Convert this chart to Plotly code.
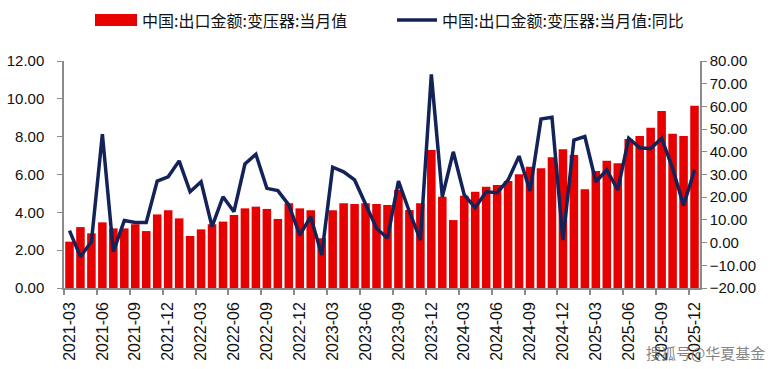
import plotly.graph_objects as go

months = ["2021-03", "2021-04", "2021-05", "2021-06", "2021-07", "2021-08", "2021-09", "2021-10",
          "2021-11", "2021-12", "2022-01", "2022-02", "2022-03", "2022-04", "2022-05", "2022-06",
          "2022-07", "2022-08", "2022-09", "2022-10", "2022-11", "2022-12", "2023-01", "2023-02",
          "2023-03", "2023-04", "2023-05", "2023-06", "2023-07", "2023-08", "2023-09", "2023-10",
          "2023-11", "2023-12", "2024-01", "2024-02", "2024-03", "2024-04", "2024-05", "2024-06",
          "2024-07", "2024-08", "2024-09", "2024-10", "2024-11", "2024-12", "2025-01", "2025-02",
          "2025-03", "2025-04", "2025-05", "2025-06", "2025-07", "2025-08", "2025-09", "2025-10",
          "2025-11", "2025-12"]

export_value = [2.45, 3.22, 2.89, 3.47, 3.15, 3.15, 3.37, 3.01, 3.89, 4.11, 3.68, 2.75,
                3.10, 3.37, 3.51, 3.86, 4.21, 4.30, 4.18, 3.65, 4.48, 4.21, 4.11, 2.63,
                4.11, 4.48, 4.44, 4.48, 4.44, 4.39, 5.18, 4.12, 4.48, 7.29, 4.83, 3.59,
                4.88, 5.09, 5.35, 5.44, 5.66, 6.01, 6.41, 6.33, 6.91, 7.33, 7.03, 5.22,
                6.18, 6.73, 6.59, 7.88, 8.03, 8.47, 9.36, 8.16, 8.03, 9.64]

yoy = [5.3, -6.2, 0.4, 47.8, -4.0, 9.7, 8.9, 8.9, 27.1, 29.0, 36.0, 22.4,
       26.8, 7.0, 20.2, 13.6, 34.6, 38.9, 23.9, 22.9, 16.6, 3.3, 11.4, -5.5,
       33.2, 31.2, 27.6, 16.6, 6.3, 1.9, 27.1, 13.6, 1.1, 74.1, 20.2, 40.0,
       21.0, 15.4, 22.4, 22.0, 27.6, 38.1, 22.7, 54.4, 55.2, 1.1, 45.2, 46.7,
       26.8, 32.0, 23.2, 46.0, 41.8, 41.4, 46.0, 32.7, 16.3, 32.0]

name_bar = "中国:出口金额:变压器:当月值"
name_line = "中国:出口金额:变压器:当月值:同比"
watermark = "搜狐号@华夏基金"

BAR_COLOR = "#e60000"
LINE_COLOR = "#13235a"
AXIS_COLOR = "#8c8c8c"

idx = list(range(len(months)))
label_idx = idx[::3]
label_text = [months[i] for i in label_idx]

fig = go.Figure()
fig.add_trace(go.Bar(x=idx, y=export_value, name=name_bar, marker_color=BAR_COLOR,
                     marker_line_width=0, yaxis="y"))
fig.add_trace(go.Scatter(x=idx, y=yoy, name=name_line, mode="lines",
                         line=dict(color=LINE_COLOR, width=3.5), yaxis="y2"))

tick_font = dict(family="Liberation Sans, Arial, sans-serif", size=15, color="#111")

fig.update_layout(
    width=780, height=369,
    margin=dict(l=64, r=80, t=61, b=81),
    paper_bgcolor="white", plot_bgcolor="white",
    showlegend=False,
    bargap=0.22,
    xaxis=dict(range=[-0.5, len(months) - 0.5], tickmode="array", tickvals=label_idx,
               ticktext=label_text, tickangle=-90, ticks="", showgrid=False, zeroline=False,
               showline=True, linecolor=AXIS_COLOR, linewidth=1.5, ticklabelstandoff=6,
               automargin=False,
               tickfont=dict(family="Liberation Sans, Arial, sans-serif", size=16, color="#111"),
               minor=dict(tickmode="array", tickvals=[i - 0.5 for i in label_idx],
                          ticks="outside", ticklen=5, tickcolor=AXIS_COLOR, tickwidth=1.5)),
    yaxis=dict(range=[0, 12], dtick=2, tickformat=".2f", ticks="outside", ticklen=5,
               tickcolor=AXIS_COLOR, showline=True, linecolor=AXIS_COLOR, linewidth=1.5,
               showgrid=False, zeroline=False, tickfont=tick_font, ticklabelstandoff=10,
               automargin=False),
    yaxis2=dict(range=[-20, 80], dtick=10, tickformat=".2f", overlaying="y", side="right",
                ticks="outside", ticklen=5, tickcolor=AXIS_COLOR, showline=True,
                linecolor=AXIS_COLOR, linewidth=1.5, showgrid=False, zeroline=False,
                tickfont=tick_font, automargin=False),
)

# custom legend (pixel -> paper conversion)
def px_x(px):
    return (px - 64) / 636.0

def px_y(py):
    return (288 - py) / 227.0

leg_y = 20
fig.add_shape(type="rect", xref="paper", yref="paper",
              x0=px_x(95), x1=px_x(137), y0=px_y(leg_y + 6), y1=px_y(leg_y - 6),
              fillcolor=BAR_COLOR, line_width=0)
fig.add_annotation(xref="paper", yref="paper", x=px_x(140), y=px_y(leg_y), text=name_bar,
                   showarrow=False, xanchor="left", yanchor="middle",
                   font=dict(family="Noto Sans CJK SC", size=16, color="#111"))
fig.add_shape(type="line", xref="paper", yref="paper",
              x0=px_x(397), x1=px_x(437), y0=px_y(leg_y), y1=px_y(leg_y),
              line=dict(color=LINE_COLOR, width=3.5))
fig.add_annotation(xref="paper", yref="paper", x=px_x(440), y=px_y(leg_y), text=name_line,
                   showarrow=False, xanchor="left", yanchor="middle",
                   font=dict(family="Noto Sans CJK SC", size=16, color="#111"))

fig.add_annotation(xref="paper", yref="paper", x=px_x(705), y=px_y(352), text=watermark,
                   showarrow=False, xanchor="center", yanchor="middle",
                   font=dict(family="Noto Sans CJK SC", size=15, color="rgba(90,90,90,0.75)"))

fig.write_html("out.html", config={"displayModeBar": False},
               post_script="document.body.style.margin='0';")
